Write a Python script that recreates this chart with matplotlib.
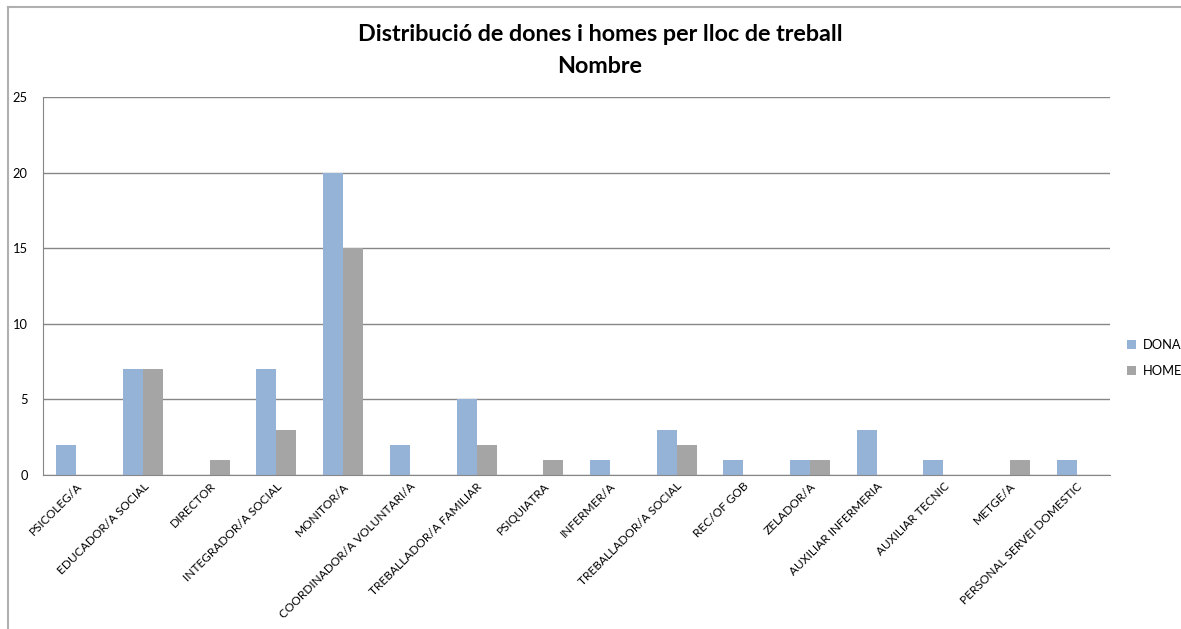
import matplotlib.pyplot as plt
import numpy as np
from matplotlib.lines import Line2D

plt.rcParams['font.family'] = ['Lato', 'DejaVu Sans']

llocs = ['PSICOLEG/A', 'EDUCADOR/A SOCIAL', 'DIRECTOR', 'INTEGRADOR/A SOCIAL',
         'MONITOR/A', 'COORDINADOR/A VOLUNTARI/A', 'TREBALLADOR/A FAMILIAR',
         'PSIQUIATRA', 'INFERMER/A', 'TREBALLADOR/A SOCIAL', 'REC/OF GOB',
         'ZELADOR/A', 'AUXILIAR INFERMERIA', 'AUXILIAR TECNIC', 'METGE/A',
         'PERSONAL SERVEI DOMESTIC']
dona = [2, 7, 0, 7, 20, 2, 5, 0, 1, 3, 1, 1, 3, 1, 0, 1]
home = [0, 7, 1, 3, 15, 0, 2, 1, 0, 2, 0, 1, 0, 0, 1, 0]

fig = plt.figure(figsize=(11.81, 6.29), dpi=100)
ax = fig.add_axes([0.0364, 0.2448, 0.9036, 0.601])

x = np.arange(len(llocs))
w = 0.3
ax.bar(x - w / 2, dona, w, color='#95B3D7', label='DONA')
ax.bar(x + w / 2, home, w, color='#A5A5A5', label='HOME')

ax.set_xlim(-0.5, len(llocs) - 0.5)
ax.set_ylim(0, 25)
ax.set_yticks([0, 5, 10, 15, 20, 25])
ax.yaxis.grid(True, color='#868686', linewidth=1)
ax.set_axisbelow(True)
for s in ['top', 'right']:
    ax.spines[s].set_visible(False)
for s in ['left', 'bottom']:
    ax.spines[s].set_color('#868686')
ax.tick_params(axis='both', length=0, labelsize=9.3, colors='#000000')
ax.tick_params(axis='y', pad=11)
ax.tick_params(axis='x', pad=4, labelsize=8.6)
ax.set_xticks(x)
ax.set_xticklabels(llocs, rotation=45, ha='right', rotation_mode='anchor')

fig.text(0.508, 0.945, 'Distribució de dones i homes per lloc de treball',
         ha='center', va='center', fontsize=16.8, fontweight='bold')
fig.text(0.508, 0.895, 'Nombre', ha='center', va='center',
         fontsize=16.8, fontweight='bold')

ax.legend(loc='center left', bbox_to_anchor=(1.005, 0.31), frameon=False,
          fontsize=9.3, handlelength=0.7, handleheight=0.7, labelspacing=1.1,
          handletextpad=0.5)

# outer chart frame (top and left edge)
fig.add_artist(Line2D([8 / 1181, 1180 / 1181], [1 - 7 / 629, 1 - 7 / 629],
                      transform=fig.transFigure, color='#B0B0B0', linewidth=1.5))
fig.add_artist(Line2D([8 / 1181, 8 / 1181], [0, 1 - 7 / 629],
                      transform=fig.transFigure, color='#B0B0B0', linewidth=1.5))

fig.savefig('out.png', dpi=100)
